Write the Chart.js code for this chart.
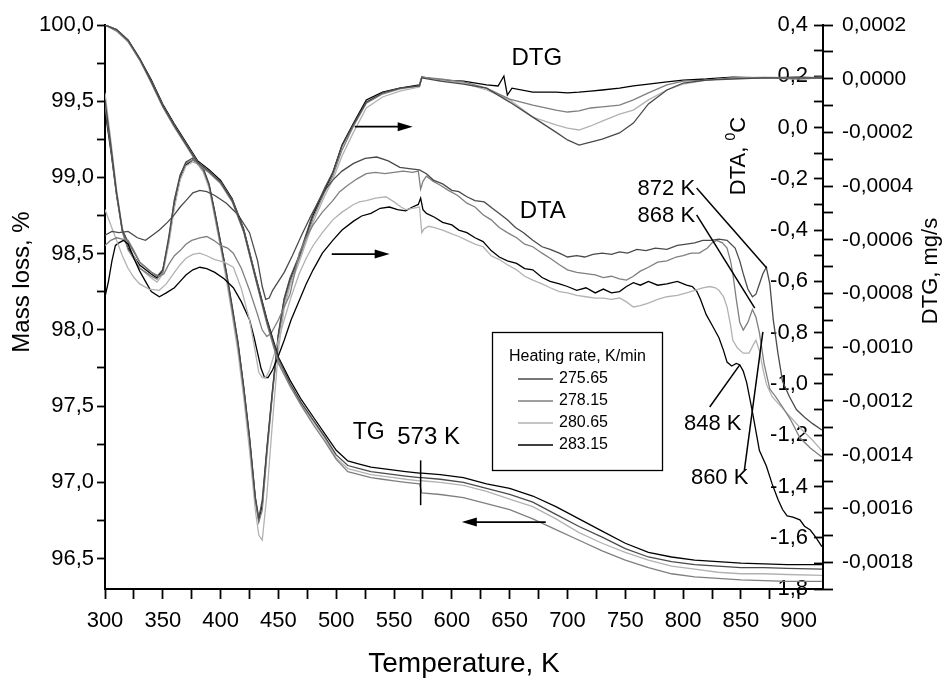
<!DOCTYPE html>
<html><head><meta charset="utf-8">
<script src="https://cdn.jsdelivr.net/npm/chart.js@4/dist/chart.umd.min.js"></script>
<style>html,body{margin:0;padding:0;background:#fff;}#wrap{width:946px;height:685px;}</style>
</head><body><div id="wrap"><canvas id="c" width="946" height="685"></canvas></div>
<script>
// ---------- DATA ----------
const heatingRates = ['275.65', '278.15', '280.65', '283.15'];

// tick values
const tempTicks = [300,325,350,375,400,425,450,475,500,525,550,575,600,625,650,675,700,725,750,775,800,825,850,875,900];
const tempLabelled = [300,350,400,450,500,550,600,650,700,750,800,850,900];
const massTicks = [96.5,96.75,97.0,97.25,97.5,97.75,98.0,98.25,98.5,98.75,99.0,99.25,99.5,99.75,100.0];
const massLabelled = [96.5,97.0,97.5,98.0,98.5,99.0,99.5,100.0];
const dtaTicks = [-1.8,-1.7,-1.6,-1.5,-1.4,-1.3,-1.2,-1.1,-1.0,-0.9,-0.8,-0.7,-0.6,-0.5,-0.4,-0.3,-0.2,-0.1,0.0,0.1,0.2,0.3,0.4];
const dtaLabelled = [-1.8,-1.6,-1.4,-1.2,-1.0,-0.8,-0.6,-0.4,-0.2,0.0,0.2,0.4];
const dtgTicks = [-0.0019,-0.0018,-0.0017,-0.0016,-0.0015,-0.0014,-0.0013,-0.0012,-0.0011,-0.0010,-0.0009,-0.0008,-0.0007,-0.0006,-0.0005,-0.0004,-0.0003,-0.0002,-0.0001,0.0,0.0001,0.0002];
const dtgLabelled = [-0.0018,-0.0016,-0.0014,-0.0012,-0.0010,-0.0008,-0.0006,-0.0004,-0.0002,0.0,0.0002];

// TG, mass loss % vs temperature K
const tg_275_65 = [[300,100.00],[310,99.97],[320,99.90],[330,99.78],[340,99.63],[350,99.47],[360,99.34],[370,99.22],[380,99.10],[390,99.04],[400,98.97],[410,98.85],[420,98.65],[430,98.35],[440,98.06],[450,97.81],[460,97.65],[470,97.52],[480,97.41],[490,97.30],[500,97.18],[510,97.11],[520,97.09],[530,97.07],[540,97.06],[550,97.05],[560,97.04],[572,97.03],[574,97.03],[590,97.02],[610,97.00],[630,96.96],[650,96.92],[670,96.87],[690,96.79],[710,96.71],[730,96.64],[750,96.565],[770,96.51],[790,96.48],[810,96.46],[830,96.45],[850,96.44],[870,96.44],[890,96.435],[920,96.43]];
const tg_278_15 = [[300,100.00],[310,99.96],[320,99.89],[330,99.77],[340,99.62],[350,99.46],[360,99.33],[370,99.21],[380,99.09],[390,99.03],[400,98.96],[410,98.84],[420,98.64],[430,98.34],[440,98.04],[450,97.78],[460,97.63],[470,97.50],[480,97.38],[490,97.27],[500,97.15],[510,97.07],[520,97.05],[530,97.03],[540,97.02],[550,97.01],[560,97.00],[572,96.99],[574,96.93],[590,96.92],[610,96.90],[630,96.86],[650,96.82],[670,96.76],[690,96.69],[710,96.62],[730,96.55],[750,96.49],[770,96.44],[790,96.40],[810,96.38],[830,96.37],[850,96.36],[870,96.355],[890,96.35],[920,96.35]];
const tg_280_65 = [[300,100.00],[310,99.97],[320,99.89],[330,99.77],[340,99.63],[350,99.47],[360,99.34],[370,99.22],[380,99.10],[390,99.04],[400,98.97],[410,98.85],[420,98.65],[430,98.35],[440,98.05],[450,97.79],[460,97.64],[470,97.51],[480,97.40],[490,97.29],[500,97.16],[510,97.09],[520,97.07],[530,97.05],[540,97.04],[550,97.03],[560,97.02],[572,97.01],[574,97.01],[590,97.00],[610,96.98],[630,96.94],[650,96.89],[670,96.84],[690,96.76],[710,96.67],[730,96.60],[750,96.54],[770,96.49],[790,96.45],[810,96.43],[830,96.41],[850,96.40],[870,96.40],[890,96.395],[920,96.39]];
const tg_283_15 = [[300,100.00],[310,99.97],[320,99.90],[330,99.78],[340,99.64],[350,99.48],[360,99.35],[370,99.23],[380,99.11],[390,99.05],[400,98.98],[410,98.86],[420,98.66],[430,98.36],[440,98.07],[450,97.82],[460,97.67],[470,97.54],[480,97.43],[490,97.32],[500,97.21],[510,97.14],[520,97.12],[530,97.10],[540,97.09],[550,97.08],[560,97.07],[572,97.06],[574,97.06],[590,97.05],[610,97.03],[630,96.99],[650,96.96],[670,96.91],[690,96.84],[710,96.76],[730,96.68],[750,96.60],[770,96.54],[790,96.51],[810,96.49],[830,96.48],[850,96.47],[870,96.465],[890,96.46],[920,96.46]];

// DTA, degC vs temperature K
const dta_275_65 = [[300,-0.42],[306,-0.405],[312,-0.41],[320,-0.405],[328,-0.43],[335,-0.44],[341,-0.42],[347,-0.40],[354,-0.37],[360,-0.34],[365,-0.31],[370,-0.285],[376,-0.255],[382,-0.245],[388,-0.25],[395,-0.265],[405,-0.295],[415,-0.34],[425,-0.41],[432,-0.52],[436,-0.62],[439,-0.67],[442,-0.665],[445,-0.635],[450,-0.60],[455,-0.565],[462,-0.50],[470,-0.42],[478,-0.345],[485,-0.285],[491,-0.24],[497,-0.205],[505,-0.17],[515,-0.14],[525,-0.12],[535,-0.115],[545,-0.13],[555,-0.155],[563,-0.16],[572,-0.165],[578,-0.18],[584,-0.205],[592,-0.22],[600,-0.245],[606,-0.25],[613,-0.27],[620,-0.285],[628,-0.29],[635,-0.315],[641,-0.335],[648,-0.36],[655,-0.39],[662,-0.41],[670,-0.44],[678,-0.465],[685,-0.475],[693,-0.49],[700,-0.505],[708,-0.50],[715,-0.505],[722,-0.495],[730,-0.49],[738,-0.495],[745,-0.485],[752,-0.49],[760,-0.475],[768,-0.48],[776,-0.47],[786,-0.475],[795,-0.46],[803,-0.455],[810,-0.45],[817,-0.44],[824,-0.44],[831,-0.435],[838,-0.44],[845,-0.47],[849,-0.52],[852,-0.57],[856,-0.63],[860,-0.66],[863,-0.65],[866,-0.61],[869,-0.57],[872,-0.545],[875,-0.61],[878,-0.75],[882,-0.88],[886,-0.99],[892,-1.05],[898,-1.10],[905,-1.13],[912,-1.155],[920,-1.18]];
const dta_278_15 = [[300,-0.46],[305,-0.44],[310,-0.43],[315,-0.435],[320,-0.44],[325,-0.48],[330,-0.525],[335,-0.545],[340,-0.565],[347,-0.58],[351,-0.57],[355,-0.535],[360,-0.50],[365,-0.48],[370,-0.455],[375,-0.44],[382,-0.43],[388,-0.425],[394,-0.44],[400,-0.46],[406,-0.47],[411,-0.49],[418,-0.55],[425,-0.635],[432,-0.73],[436,-0.79],[440,-0.815],[444,-0.80],[450,-0.75],[455,-0.70],[460,-0.65],[464,-0.57],[468,-0.49],[474,-0.43],[480,-0.38],[488,-0.33],[497,-0.285],[503,-0.25],[510,-0.225],[518,-0.20],[526,-0.18],[534,-0.175],[542,-0.18],[550,-0.175],[558,-0.17],[566,-0.175],[571,-0.17],[573,-0.24],[575,-0.21],[578,-0.19],[584,-0.21],[590,-0.225],[597,-0.245],[605,-0.265],[613,-0.295],[620,-0.31],[627,-0.34],[634,-0.36],[641,-0.39],[648,-0.41],[656,-0.43],[663,-0.455],[670,-0.465],[678,-0.49],[685,-0.51],[693,-0.535],[700,-0.555],[708,-0.565],[716,-0.57],[724,-0.575],[731,-0.585],[738,-0.58],[745,-0.59],[751,-0.595],[757,-0.58],[763,-0.56],[770,-0.545],[778,-0.525],[786,-0.52],[794,-0.505],[800,-0.50],[807,-0.49],[814,-0.49],[821,-0.47],[825,-0.45],[829,-0.44],[834,-0.45],[838,-0.47],[841,-0.52],[843,-0.57],[846,-0.67],[849,-0.76],[852,-0.79],[856,-0.76],[860,-0.71],[863,-0.74],[866,-0.80],[870,-0.92],[875,-1.02],[880,-1.05],[886,-1.09],[893,-1.14],[901,-1.21],[910,-1.25],[920,-1.285]];
const dta_280_65 = [[300,-0.32],[305,-0.38],[310,-0.44],[315,-0.50],[320,-0.55],[325,-0.585],[330,-0.61],[338,-0.63],[347,-0.635],[353,-0.61],[360,-0.565],[365,-0.535],[370,-0.51],[376,-0.495],[382,-0.49],[388,-0.50],[395,-0.515],[403,-0.525],[411,-0.545],[418,-0.63],[425,-0.75],[429,-0.85],[433,-0.955],[436,-0.975],[439,-0.975],[442,-0.95],[445,-0.905],[450,-0.83],[455,-0.75],[461,-0.66],[468,-0.57],[474,-0.51],[480,-0.46],[488,-0.41],[497,-0.36],[505,-0.33],[515,-0.30],[520,-0.29],[526,-0.285],[534,-0.275],[543,-0.27],[550,-0.29],[556,-0.31],[560,-0.32],[566,-0.315],[572,-0.31],[574,-0.41],[576,-0.395],[580,-0.385],[585,-0.39],[592,-0.40],[600,-0.415],[606,-0.425],[613,-0.44],[620,-0.455],[627,-0.465],[634,-0.50],[641,-0.515],[648,-0.535],[656,-0.555],[663,-0.58],[670,-0.595],[678,-0.61],[685,-0.625],[693,-0.64],[700,-0.645],[708,-0.655],[716,-0.66],[724,-0.665],[731,-0.665],[738,-0.67],[745,-0.665],[751,-0.68],[757,-0.70],[763,-0.695],[770,-0.685],[778,-0.67],[786,-0.66],[795,-0.655],[803,-0.645],[810,-0.635],[817,-0.625],[823,-0.62],[828,-0.625],[831,-0.635],[835,-0.66],[838,-0.70],[841,-0.77],[843,-0.83],[847,-0.86],[852,-0.88],[857,-0.88],[861,-0.845],[863,-0.83],[866,-0.87],[869,-0.94],[872,-1.00],[877,-1.05],[883,-1.08],[889,-1.11],[895,-1.14],[903,-1.18],[912,-1.22],[920,-1.26]];
const dta_283_15 = [[300,-0.66],[303,-0.60],[306,-0.52],[309,-0.46],[312,-0.45],[316,-0.44],[320,-0.455],[325,-0.51],[330,-0.56],[335,-0.60],[340,-0.64],[347,-0.66],[353,-0.645],[360,-0.625],[365,-0.60],[370,-0.575],[376,-0.555],[382,-0.545],[388,-0.55],[395,-0.565],[403,-0.59],[411,-0.625],[418,-0.68],[425,-0.75],[429,-0.82],[432,-0.88],[435,-0.94],[438,-0.975],[441,-0.975],[445,-0.945],[450,-0.89],[455,-0.83],[461,-0.75],[468,-0.675],[474,-0.61],[480,-0.555],[488,-0.49],[497,-0.44],[505,-0.40],[515,-0.365],[522,-0.345],[530,-0.335],[538,-0.315],[546,-0.31],[553,-0.32],[560,-0.325],[566,-0.31],[571,-0.30],[573,-0.275],[575,-0.32],[578,-0.335],[585,-0.35],[592,-0.37],[600,-0.38],[606,-0.40],[613,-0.41],[620,-0.43],[627,-0.445],[634,-0.48],[641,-0.505],[648,-0.52],[656,-0.53],[663,-0.55],[670,-0.555],[678,-0.585],[685,-0.60],[693,-0.61],[700,-0.62],[708,-0.635],[716,-0.625],[724,-0.645],[731,-0.63],[738,-0.645],[745,-0.64],[751,-0.62],[757,-0.605],[763,-0.615],[770,-0.60],[778,-0.615],[786,-0.61],[795,-0.60],[803,-0.615],[808,-0.62],[812,-0.64],[815,-0.67],[820,-0.73],[825,-0.77],[831,-0.82],[835,-0.87],[838,-0.915],[842,-0.93],[846,-0.92],[849,-0.925],[852,-0.95],[855,-0.995],[860,-1.11],[866,-1.26],[872,-1.32],[877,-1.39],[882,-1.45],[886,-1.49],[890,-1.515],[895,-1.52],[901,-1.53],[905,-1.555],[910,-1.57],[915,-1.60],[920,-1.635]];

// DTG, mg/s vs temperature K
const dtg_275_65 = [[300,-0.000079],[305,-0.000247],[310,-0.000422],[315,-0.000564],[320,-0.000608],[330,-0.000683],[340,-0.000720],[345,-0.000735],[350,-0.000712],[355,-0.000593],[360,-0.000452],[365,-0.000359],[370,-0.000310],[376,-0.000295],[380,-0.000310],[385,-0.000333],[390,-0.000392],[395,-0.000496],[400,-0.000608],[405,-0.000720],[410,-0.000847],[415,-0.000981],[420,-0.001148],[425,-0.001335],[430,-0.001558],[433,-0.001636],[436,-0.001569],[440,-0.001375],[445,-0.001152],[450,-0.000947],[455,-0.000817],[460,-0.000742],[468,-0.000657],[480,-0.000500],[490,-0.000407],[497,-0.000348],[505,-0.000250],[515,-0.000169],[526,-0.000087],[540,-0.000053],[555,-0.000035],[572,-0.000027],[574,0.000003],[590,-0.000009],[610,-0.000020],[630,-0.000035],[650,-0.000087],[670,-0.000143],[690,-0.000199],[700,-0.000228],[710,-0.000247],[720,-0.000236],[730,-0.000225],[745,-0.000202],[757,-0.000165],[770,-0.000094],[786,-0.000042],[800,-0.000016],[820,-0.000005],[843,-0.000001],[870,0.000003],[900,0.000003],[920,0.000003]];
const dtg_278_15 = [[300,-0.000098],[305,-0.000258],[310,-0.000433],[315,-0.000571],[320,-0.000638],[330,-0.000705],[340,-0.000735],[345,-0.000746],[350,-0.000720],[355,-0.000601],[360,-0.000452],[365,-0.000359],[370,-0.000314],[376,-0.000303],[380,-0.000314],[385,-0.000340],[390,-0.000396],[395,-0.000508],[400,-0.000619],[405,-0.000731],[410,-0.000862],[415,-0.000992],[420,-0.001159],[425,-0.001346],[430,-0.001569],[433,-0.001651],[436,-0.001606],[440,-0.001401],[445,-0.001167],[450,-0.000962],[455,-0.000832],[460,-0.000757],[468,-0.000668],[480,-0.000519],[490,-0.000422],[497,-0.000362],[505,-0.000266],[515,-0.000176],[526,-0.000091],[540,-0.000057],[555,-0.000038],[572,-0.000027],[574,0.000006],[590,-0.000001],[610,-0.000012],[630,-0.000035],[650,-0.000076],[670,-0.000098],[690,-0.000117],[700,-0.000124],[710,-0.000120],[720,-0.000109],[730,-0.000105],[745,-0.000098],[757,-0.000079],[770,-0.000053],[786,-0.000023],[800,-0.000009],[820,-0.000005],[843,0.000003],[870,0.000003],[900,-0.000001],[920,0.000003]];
const dtg_280_65 = [[300,-0.000053],[305,-0.000228],[310,-0.000415],[315,-0.000556],[320,-0.000619],[330,-0.000705],[340,-0.000742],[345,-0.000757],[350,-0.000727],[355,-0.000619],[360,-0.000482],[365,-0.000377],[370,-0.000325],[376,-0.000310],[380,-0.000318],[385,-0.000348],[390,-0.000407],[395,-0.000519],[400,-0.000631],[405,-0.000750],[410,-0.000880],[415,-0.001018],[420,-0.001189],[425,-0.001383],[430,-0.001606],[433,-0.001699],[436,-0.001718],[440,-0.001550],[445,-0.001271],[450,-0.001010],[455,-0.000854],[460,-0.000772],[468,-0.000683],[480,-0.000534],[490,-0.000437],[497,-0.000377],[505,-0.000288],[515,-0.000199],[526,-0.000109],[540,-0.000068],[555,-0.000046],[572,-0.000031],[574,0.000003],[590,-0.000005],[610,-0.000016],[630,-0.000042],[650,-0.000079],[670,-0.000143],[690,-0.000172],[700,-0.000184],[710,-0.000191],[720,-0.000176],[730,-0.000158],[745,-0.000132],[757,-0.000117],[770,-0.000079],[786,-0.000042],[800,-0.000020],[820,-0.000005],[843,0.000003],[870,0.000006],[900,0.000003],[920,0.000006]];
const dtg_283_15 = [[300,-0.000117],[305,-0.000266],[310,-0.000433],[315,-0.000564],[320,-0.000631],[330,-0.000694],[340,-0.000727],[345,-0.000742],[350,-0.000712],[355,-0.000608],[360,-0.000470],[365,-0.000370],[370,-0.000321],[376,-0.000303],[380,-0.000310],[385,-0.000340],[390,-0.000396],[395,-0.000500],[400,-0.000612],[405,-0.000724],[410,-0.000854],[415,-0.000984],[420,-0.001152],[425,-0.001338],[430,-0.001562],[433,-0.001644],[436,-0.001588],[440,-0.001383],[445,-0.001159],[450,-0.000955],[455,-0.000824],[460,-0.000750],[468,-0.000664],[480,-0.000508],[490,-0.000415],[497,-0.000351],[505,-0.000247],[515,-0.000165],[526,-0.000079],[540,-0.000050],[555,-0.000035],[572,-0.000023],[574,0.000006],[590,-0.000005],[610,-0.000009],[630,-0.000023],[640,-0.000027],[645,0.000010],[648,-0.000061],[652,-0.000035],[670,-0.000050],[690,-0.000050],[700,-0.000053],[710,-0.000050],[720,-0.000046],[730,-0.000042],[745,-0.000035],[757,-0.000027],[770,-0.000020],[786,-0.000012],[800,-0.000005],[820,-0.000001],[843,0.000006],[870,0.000003],[900,0.000006],[920,0.000003]];

// ---------- STYLE ----------
const FONT = '"Liberation Sans", Arial, Helvetica, sans-serif';
const rateColor = {'275.65': '#4a4a4a', '278.15': '#7f7f7f', '280.65': '#b2b2b2', '283.15': '#000000'};
const seriesByRate = {
  '275.65': {tg: tg_275_65, dta: dta_275_65, dtg: dtg_275_65},
  '278.15': {tg: tg_278_15, dta: dta_278_15, dtg: dtg_278_15},
  '280.65': {tg: tg_280_65, dta: dta_280_65, dtg: dtg_280_65},
  '283.15': {tg: tg_283_15, dta: dta_283_15, dtg: dtg_283_15}
};
const toXY = arr => arr.map(p => ({x: p[0], y: p[1]}));
const datasets = [];
[['tg','y'],['dta','yDTA'],['dtg','yDTG']].forEach(([kind, axis]) => {
  heatingRates.forEach(r => {
    datasets.push({
      label: kind.toUpperCase() + ' ' + r,
      data: toXY(seriesByRate[r][kind]),
      yAxisID: axis,
      borderColor: rateColor[r],
      borderWidth: 1.3,
      pointRadius: 0,
      tension: 0,
      fill: false
    });
  });
});

const isIn = (list, v, eps) => list.some(t => Math.abs(t - v) < eps);
const comma = (v, d) => { let s = (Math.abs(v) < 1e-12 ? 0 : v).toFixed(d); if (/^-0[,.]0+$/.test(s)) s = s.slice(1); return s.replace('.', ','); };
const setTicks = list => (scale) => { scale.ticks = list.map(v => ({value: v})); };

// ---------- PLUGINS ----------
const decorations = {
  id: 'decorations',
  afterDatasetsDraw(chart) {
    const {ctx, scales} = chart;
    const X = v => scales.x.getPixelForValue(v);
    const YM = v => scales.y.getPixelForValue(v);
    const YD = v => scales.yDTA.getPixelForValue(v);
    ctx.save();
    ctx.fillStyle = '#000';
    ctx.strokeStyle = '#000';
    ctx.lineCap = 'butt';
    const text = (s, x, y, size) => { ctx.font = size + 'px ' + FONT; ctx.textAlign = 'center'; ctx.textBaseline = 'middle'; ctx.fillText(s, x, y); };
    const seg = (x1, y1, x2, y2, w) => { ctx.lineWidth = w; ctx.beginPath(); ctx.moveTo(x1, y1); ctx.lineTo(x2, y2); ctx.stroke(); };
    const arrow = (x1, y1, x2, y2) => {
      const dir = Math.sign(x2 - x1);
      seg(x1, y1, x2 - dir * 8, y2, 1.6);
      ctx.beginPath(); ctx.moveTo(x2, y2); ctx.lineTo(x2 - dir * 15, y2 - 4.5); ctx.lineTo(x2 - dir * 15, y2 + 4.5); ctx.closePath(); ctx.fill();
    };
    // curve labels
    text('DTG', X(673.4), YM(99.778), 24);
    text('DTA', X(678.6), YM(98.778), 24);
    text('TG', X(528), YM(97.327), 23);
    text('573 K', X(579.9), YM(97.294), 24);
    seg(X(573), YM(97.144), X(573), YM(96.85), 1.5);
    // arrows
    arrow(X(516), YM(99.333), X(566.1), YM(99.333));
    arrow(X(496.1), YM(98.497), X(546.2), YM(98.497));
    arrow(X(681.2), YM(96.739), X(608.6), YM(96.739));
    // temperature markers on DTA curves
    text('872 K', X(785.5), YD(-0.240), 22);
    text('868 K', X(785.5), YD(-0.345), 22);
    text('848 K', X(825.6), YD(-1.156), 22);
    text('860 K', X(831.6), YD(-1.367), 22);
    seg(X(811.7), YD(-0.236), X(872.3), YD(-0.548), 1.5);
    seg(X(811.7), YD(-0.341), X(862), YD(-0.704), 1.5);
    seg(X(823), YD(-1.090), X(849), YD(-0.926), 1.5);
    seg(X(853), YD(-1.336), X(869), YD(-0.797), 1.5);

    // legend box
    const bx = 492, by = 332, bw = 170, bh = 138;
    ctx.fillStyle = '#fff'; ctx.fillRect(bx, by, bw, bh);
    ctx.lineWidth = 1.3; ctx.strokeStyle = '#000'; ctx.strokeRect(bx + 0.5, by + 0.5, bw, bh);
    ctx.fillStyle = '#000';
    ctx.font = '16px ' + FONT; ctx.textAlign = 'left'; ctx.textBaseline = 'middle';
    ctx.fillText('Heating rate, K/min', bx + 17, by + 25);
    heatingRates.forEach((r, i) => {
      const yy = by + 47 + i * 22;
      ctx.strokeStyle = rateColor[r]; ctx.lineWidth = 1.5;
      ctx.beginPath(); ctx.moveTo(bx + 26, yy); ctx.lineTo(bx + 61, yy); ctx.stroke();
      ctx.fillStyle = '#000';
      ctx.fillText(r, bx + 67, yy);
    });

    // rotated axis titles
    const rot = (s, x, y, size) => { ctx.save(); ctx.translate(x, y); ctx.rotate(-Math.PI / 2); text(s, 0, 0, size); ctx.restore(); };
    ctx.fillStyle = '#000';
    rot('Mass loss, %', 22, 282, 24);
    rot('DTG, mg/s', 931, 271, 22);
    // DTA title with superscript 0
    ctx.save();
    ctx.translate(739, 156); ctx.rotate(-Math.PI / 2);
    ctx.textBaseline = 'middle'; ctx.textAlign = 'left';
    ctx.font = '22px ' + FONT; const w1 = ctx.measureText('DTA, ').width; const w3 = ctx.measureText('C').width;
    ctx.font = '14px ' + FONT; const w2 = ctx.measureText('0').width;
    let sx = -(w1 + w2 + w3) / 2;
    ctx.font = '22px ' + FONT; ctx.fillText('DTA, ', sx, 0); sx += w1;
    ctx.font = '14px ' + FONT; ctx.fillText('0', sx, -8); sx += w2;
    ctx.font = '22px ' + FONT; ctx.fillText('C', sx, 0);
    ctx.restore();
    ctx.restore();
  }
};

// ---------- CHART ----------
new Chart(document.getElementById('c'), {
  type: 'line',
  data: {datasets},
  options: {
    responsive: false,
    animation: false,
    devicePixelRatio: 1,
    layout: {padding: {top: 25, left: 0, right: 0, bottom: 0}},
    plugins: {legend: {display: false}, tooltip: {enabled: false}},
    scales: {
      x: {
        type: 'linear', position: 'bottom', min: 300, max: 921,
        afterBuildTicks: setTicks(tempTicks),
        afterFit: s => { s.height = 96; },
        ticks: {autoSkip: false, maxRotation: 0, padding: 9, color: '#000', font: {family: FONT, size: 22},
          callback: v => isIn(tempLabelled, v, 1e-6) ? String(v) : ''},
        grid: {drawOnChartArea: false, tickLength: 10, tickWidth: 1.8, tickColor: '#000'},
        border: {display: true, color: '#000', width: 2},
        title: {display: true, text: 'Temperature, K', color: '#000', font: {family: FONT, size: 28}, padding: {top: 0, bottom: 4}}
      },
      y: {
        type: 'linear', position: 'left', min: 96.3, max: 100.0,
        afterBuildTicks: setTicks(massTicks),
        afterFit: s => { s.width = 105; },
        ticks: {autoSkip: false, padding: 3, color: '#000', font: {family: FONT, size: 22},
          callback: v => isIn(massLabelled, v, 1e-6) ? comma(v, 1) : ''},
        grid: {drawOnChartArea: false, tickLength: 8, tickWidth: 1.8, tickColor: '#000'},
        border: {display: true, color: '#000', width: 2}
      },
      yDTA: {
        type: 'linear', position: 'right', weight: 0, min: -1.8, max: 0.4,
        afterBuildTicks: setTicks(dtaTicks),
        afterFit: s => { s.width = 0; },
        ticks: {autoSkip: false, mirror: true, padding: -15, color: '#000', font: {family: FONT, size: 22},
          callback: v => isIn(dtaLabelled, v, 1e-6) ? comma(v, 1) : ''},
        grid: {drawOnChartArea: false, tickLength: -9, tickWidth: 1.8, tickColor: '#000'},
        border: {display: true, color: '#000', width: 2}
      },
      yDTG: {
        type: 'linear', position: 'right', weight: 1, min: -0.0019, max: 0.0002,
        afterBuildTicks: setTicks(dtgTicks),
        afterFit: s => { s.width = 123; },
        ticks: {autoSkip: false, padding: 9, color: '#000', font: {family: FONT, size: 21},
          callback: v => isIn(dtgLabelled, v, 1e-9) ? comma(v, 4) : ''},
        grid: {drawOnChartArea: false, tickLength: 10, tickWidth: 1.8, tickColor: '#000'},
        border: {display: true, color: '#000', width: 2}
      }
    }
  },
  plugins: [decorations]
});
</script>
</body></html>
